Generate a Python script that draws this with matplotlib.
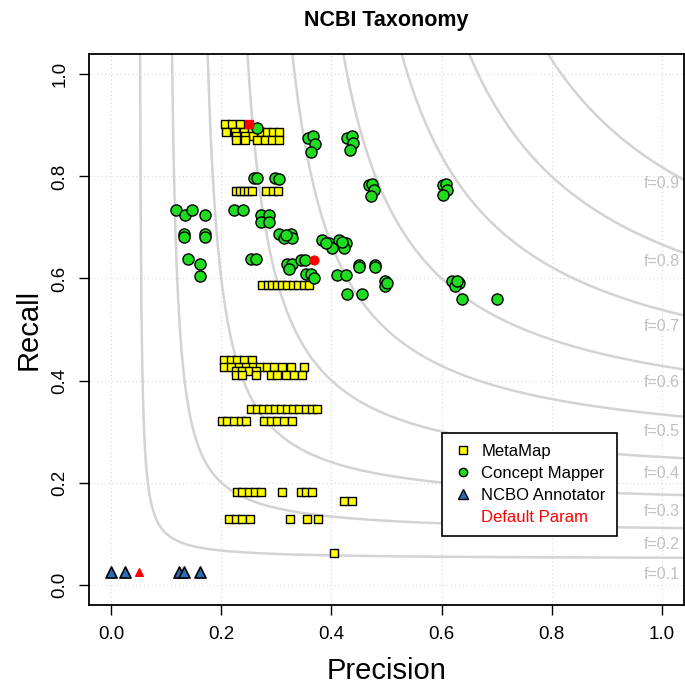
import numpy as np
import matplotlib
matplotlib.use('Agg')
import matplotlib.pyplot as plt
from matplotlib.lines import Line2D

plt.rcParams['font.family'] = ['Liberation Sans', 'DejaVu Sans']

# MetaMap runs (one line per recall level)
mm_prec = [0.207, 0.220, 0.234,
           0.209, 0.225, 0.241, 0.256, 0.272, 0.283, 0.294, 0.305,
           0.227, 0.243, 0.258,
           0.227, 0.243, 0.265, 0.279, 0.292, 0.305,
           0.227, 0.234, 0.241, 0.248, 0.256, 0.281, 0.294, 0.303,
           0.274, 0.284, 0.293, 0.302, 0.311, 0.320, 0.330, 0.340, 0.350, 0.359,
           0.205, 0.218, 0.229, 0.241, 0.256,
           0.205, 0.218, 0.232, 0.245, 0.258, 0.270, 0.283, 0.296, 0.310, 0.327, 0.350,
           0.227, 0.238, 0.250, 0.263,
           0.227, 0.238, 0.263, 0.290, 0.301, 0.318, 0.332, 0.347,
           0.254, 0.265, 0.276, 0.287, 0.298, 0.309, 0.320, 0.331, 0.342, 0.353, 0.364, 0.374,
           0.202, 0.211, 0.223, 0.236, 0.245, 0.278, 0.290, 0.301, 0.314, 0.329,
           0.229, 0.238, 0.250, 0.261, 0.272, 0.310, 0.345, 0.354, 0.365,
           0.423, 0.437,
           0.214, 0.227, 0.238, 0.252, 0.325, 0.356, 0.376,
           0.405]
mm_rec = ([0.902] * 3 + [0.888] * 8 + [0.880] * 3 + [0.871] * 6 + [0.771] * 8
          + [0.588] * 10 + [0.441] * 5 + [0.427] * 11 + [0.418] * 4 + [0.410] * 8
          + [0.345] * 12 + [0.320] * 10 + [0.182] * 9 + [0.163] * 2 + [0.129] * 7
          + [0.061])

# Concept Mapper runs
cm_prec = [0.265,
           0.358, 0.367, 0.370, 0.363,
           0.428, 0.437, 0.439, 0.434,
           0.260, 0.265, 0.298, 0.305,
           0.468, 0.474, 0.477, 0.472,
           0.603, 0.608, 0.610, 0.603,
           0.118, 0.134, 0.147, 0.171,
           0.223, 0.240,
           0.272, 0.287, 0.272, 0.287,
           0.132, 0.132, 0.171, 0.171,
           0.305, 0.327, 0.314, 0.328, 0.318,
           0.140, 0.162, 0.162,
           0.254, 0.263,
           0.319, 0.328, 0.323,
           0.345, 0.352,
           0.354, 0.363, 0.368,
           0.383, 0.396, 0.414, 0.426, 0.401, 0.423, 0.390, 0.420,
           0.410, 0.426,
           0.450, 0.479, 0.450, 0.479,
           0.428, 0.455,
           0.497, 0.497, 0.500,
           0.619, 0.632, 0.624, 0.628,
           0.637, 0.700]
cm_rec = [0.894,
          0.875, 0.880, 0.863, 0.847,
          0.875, 0.880, 0.865, 0.851,
          0.796, 0.796, 0.796, 0.794,
          0.784, 0.786, 0.773, 0.761,
          0.784, 0.786, 0.773, 0.763,
          0.735, 0.725, 0.735, 0.725,
          0.735, 0.735,
          0.724, 0.724, 0.710, 0.710,
          0.688, 0.682, 0.688, 0.682,
          0.688, 0.688, 0.680, 0.680, 0.686,
          0.639, 0.629, 0.604,
          0.639, 0.639,
          0.629, 0.629, 0.618,
          0.637, 0.637,
          0.608, 0.608, 0.600,
          0.676, 0.669, 0.676, 0.669, 0.659, 0.659, 0.670, 0.672,
          0.606, 0.606,
          0.627, 0.627, 0.622, 0.622,
          0.569, 0.569,
          0.596, 0.586, 0.592,
          0.596, 0.592, 0.586, 0.596,
          0.559, 0.559]

# NCBO Annotator runs
nc_prec = [0.000, 0.025, 0.123, 0.132, 0.162]
nc_rec = [0.024, 0.024, 0.024, 0.024, 0.024]

# default parameter runs (MetaMap, Concept Mapper, NCBO)
def_prec = [0.250, 0.368, 0.051]
def_rec = [0.902, 0.637, 0.024]

f_levels = [0.1, 0.2, 0.3, 0.4, 0.5, 0.6, 0.7, 0.8, 0.9]

fig = plt.figure(figsize=(6.85, 6.87), dpi=100)
ax = fig.add_axes([0.130, 0.1194, 0.8685, 0.802])

# F-measure iso curves
for f in f_levels:
    p = np.linspace(f / 2 + 1e-4, 1.04, 600)
    r = f * p / (2 * p - f)
    ax.plot(p, r, color='#d3d3d3', lw=1.8, zorder=1)
    ax.text(1.0, f / (2 - f) - 0.018, 'f=%.1f' % f, color='#c0c0c0',
            fontsize=11.5, ha='center', va='top', zorder=2)

# grid
for v in np.arange(0, 1.01, 0.2):
    ax.axvline(v, color='#d9d9d9', lw=0.8, ls=(0, (1, 2.5)), zorder=0)
    ax.axhline(v, color='#d9d9d9', lw=0.8, ls=(0, (1, 2.5)), zorder=0)

ax.scatter(mm_prec, mm_rec, marker='s', s=40, c='#ffff00', edgecolors='black',
           linewidths=1.0, zorder=3)
ax.scatter(cm_prec, cm_rec, marker='o', s=64, c='#1edc1e', edgecolors='black',
           linewidths=1.0, zorder=3)
ax.scatter(nc_prec, nc_rec, marker='^', s=64, c='#2b6cb8', edgecolors='black',
           linewidths=1.2, zorder=3)
ax.scatter(def_prec[0], def_rec[0], marker='s', s=36, c='red', zorder=4)
ax.scatter(def_prec[1], def_rec[1], marker='o', s=40, c='red', zorder=4)
ax.scatter(def_prec[2], def_rec[2], marker='^', s=30, c='red', zorder=4)

ax.set_xlim(-0.04, 1.04)
ax.set_ylim(-0.04, 1.04)
ticks = [0, 0.2, 0.4, 0.6, 0.8, 1.0]
ax.set_xticks(ticks)
ax.set_yticks(ticks)
ax.set_xticklabels(['%.1f' % t for t in ticks])
ax.set_yticklabels(['%.1f' % t for t in ticks], rotation=90, va='center')
ax.tick_params(direction='out', length=7, width=1, labelsize=13.5, pad=8)

for s in ax.spines.values():
    s.set_linewidth(1.3)

ax.set_xlabel('Precision', fontsize=21, labelpad=10)
ax.set_ylabel('Recall', fontsize=21, labelpad=6)
ax.set_title('NCBI Taxonomy', fontsize=15.5, fontweight='bold', pad=20)

handles = [
    Line2D([], [], ls='none', marker='s', ms=6, mfc='#ffff00', mec='black'),
    Line2D([], [], ls='none', marker='o', ms=6, mfc='#1edc1e', mec='black'),
    Line2D([], [], ls='none', marker='^', ms=7, mfc='#2b6cb8', mec='black'),
    Line2D([], [], ls='none', marker=None),
]
leg = ax.legend(handles, ['MetaMap', 'Concept Mapper', 'NCBO Annotator', 'Default Param'],
                loc='upper left', bbox_to_anchor=(0.5795, 0.327), fontsize=12,
                frameon=True, fancybox=False, edgecolor='black', framealpha=1,
                handletextpad=0.5, borderpad=0.65, labelspacing=0.42,
                handlelength=1.2)
leg.get_frame().set_linewidth(1.2)
leg.get_texts()[3].set_color('red')

fig.savefig('out.png', dpi=100)
